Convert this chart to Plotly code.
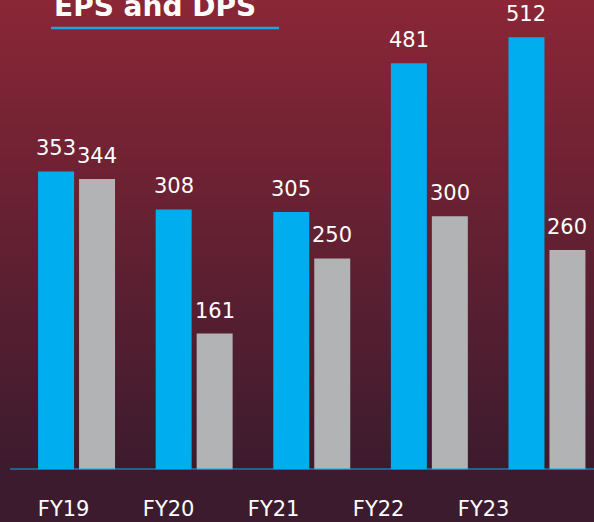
import plotly.graph_objects as go

years = ["FY19", "FY20", "FY21", "FY22", "FY23"]
eps = [353, 308, 305, 481, 512]
dps = [344, 161, 250, 300, 260]
title_text = "EPS and DPS"

W, H = 594, 522
BLUE = "#00AEEF"
GREY = "#B1B3B5"
FONT = "DejaVu Sans"

fig = go.Figure()
fig.add_bar(x=years, y=eps, name="EPS", marker_color=BLUE, marker_line_width=0, hoverinfo="skip")
fig.add_bar(x=years, y=dps, name="DPS", marker_color=GREY, marker_line_width=0, hoverinfo="skip")
# invisible helper trace for the tick-label axis
fig.add_scatter(x=years, y=[0] * len(years), xaxis="x2", mode="markers",
                marker=dict(opacity=0), showlegend=False, hoverinfo="skip")

# background gradient
shapes = []
N = 60
top = (138, 38, 54)
bot = (61, 27, 46)
grad_end = 470 / H
for k in range(N):
    t = k / (N - 1)
    c = tuple(int(round(top[j] + (bot[j] - top[j]) * t)) for j in range(3))
    y1 = 1 - k * grad_end / N
    y0 = 1 - (k + 1) * grad_end / N - 0.002
    shapes.append(dict(type="rect", xref="paper", yref="paper", x0=0, x1=1, y0=y0, y1=y1,
                       fillcolor="rgb(%d,%d,%d)" % c, line_width=0, layer="below"))
# baseline
shapes.append(dict(type="line", xref="paper", yref="y", x0=10 / W, x1=1, y0=0, y1=0,
                   line=dict(color=BLUE, width=2), layer="above"))
# title underline
shapes.append(dict(type="line", xref="paper", yref="paper", x0=51 / W, x1=279 / W,
                   y0=1 - 28 / H, y1=1 - 28 / H, line=dict(color="#1AA7E1", width=2.5)))

annotations = []
for i, yr in enumerate(years):
    annotations.append(dict(x=yr, y=eps[i], xref="x", yref="y", text=str(eps[i]), showarrow=False,
                            yanchor="bottom", xshift=-20.5, yshift=9,
                            font=dict(family=FONT, size=21, color="white")))
    annotations.append(dict(x=yr, y=dps[i], xref="x", yref="y", text=str(dps[i]), showarrow=False,
                            yanchor="bottom", xshift=20.5, yshift=9,
                            font=dict(family=FONT, size=21, color="white")))
annotations.append(dict(x=52 / W, y=1 - 25 / H, xref="paper", yref="paper",
                        text="<b>" + title_text + "</b>",
                        showarrow=False, xanchor="left", yanchor="bottom",
                        font=dict(family=FONT, size=28, color="white")))

base_px = 469.5
fig.update_layout(
    width=W, height=H,
    margin=dict(l=0, r=0, t=0, b=0),
    paper_bgcolor="rgb(61,27,46)",
    plot_bgcolor="rgba(0,0,0,0)",
    showlegend=False,
    barmode="group",
    bargap=0.303,
    bargroupgap=0.122,
    shapes=shapes,
    annotations=annotations,
    xaxis=dict(type="category", domain=[0, 1], range=[-0.651, 4.40], showticklabels=False,
               showgrid=False, zeroline=False, showline=False, ticks=""),
    xaxis2=dict(type="category", overlaying="x", anchor="y", side="bottom",
                range=[-0.606, 5.051], showgrid=False, zeroline=False, showline=False, ticks="",
                tickfont=dict(family=FONT, size=21, color="white"), ticklabelstandoff=24),
    yaxis=dict(domain=[(H - base_px) / H, 1], range=[0, 556], showgrid=False, zeroline=False,
               showticklabels=False, showline=False, ticks=""),
)

fig.write_html("out.html", config={"displayModeBar": False},
               post_script="document.body.style.margin='0';document.body.style.padding='0';")
